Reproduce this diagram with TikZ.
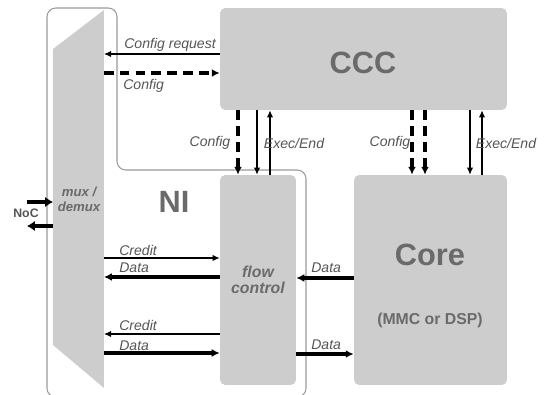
\documentclass[tikz,border=0pt]{standalone}
\usepackage{fontspec}
\setmainfont{Liberation Sans}
\usepackage{tikz}
\usetikzlibrary{arrows.meta,calc}

\definecolor{blockgray}{HTML}{CDCDCD}
\definecolor{textgray}{HTML}{6A6A6A}
\definecolor{labelgray}{HTML}{555555}
\definecolor{framegray}{HTML}{9A9A9A}

\tikzset{
	block/.style={fill=blockgray,rounded corners=3pt,inner sep=0pt},
	bigtext/.style={text=textgray,font=\fontsize{17.5}{20}\selectfont\bfseries},
	lbl/.style={text=labelgray,font=\fontsize{8}{9}\selectfont\itshape,inner sep=0pt},
	thinarr/.style={line width=0.6pt,-{Latex[length=4pt,width=3.6pt]}},
	thickarr/.style={line width=1.8pt,-{Latex[length=4.5pt,width=4.5pt]}},
	nocarr/.style={line width=2.4pt,-{Latex[length=4.5pt,width=6pt]}},
	cfgarr/.style={line width=1.8pt,dash pattern=on 5.5pt off 3.5pt,-{Latex[length=4.5pt,width=4.5pt]}},
}

\begin{document}
\begin{tikzpicture}[x=0.02cm,y=-0.02cm]
			\useasboundingbox (0,0) rectangle (549,395);
			
			% NI frame
			\begin{scope}
				\clip (0,0) rectangle (549,395);
				\draw[framegray,line width=0.6pt,rounded corners=5pt] (47,397) -- (47,8) -- (117,8) -- (117,170) -- (306,170) -- (306,397) -- cycle;
			\end{scope}
			
			\fill[blockgray] (53,49) -- (104,10) -- (104,388) -- (53,345) -- cycle;
			\coordinate (mux) at (104,200);
			\coordinate (muxl) at (53,200);
			\node[text=textgray,font=\fontsize{7.5}{8.5}\selectfont\bfseries\itshape,align=center] (muxtxt) at (79,199) {mux /\\demux};
			
			\node[block,minimum width=5.74cm,minimum height=2.04cm] (ccc) at (363.5,59) {};
			\node[bigtext] (ccctxt) at (363,63) {CCC};
			\node[block,minimum width=1.52cm,minimum height=4.2cm] (fc) at (258,280) {};
			\node[text=textgray,font=\fontsize{9}{9.2}\selectfont\bfseries\itshape,align=center] (fctxt) at (258,280) {flow\\control};
			\node[block,minimum width=3.06cm,minimum height=4.2cm] (core) at (430.5,280) {};
			\node[bigtext] (coretxt) at (430,255) {Core};
			\node[text=textgray,font=\fontsize{9}{11}\selectfont\bfseries] (mmc) at (430,320) {(MMC or DSP)};
			\node[bigtext] (ni) at (174,202) {NI};
			\node[text=labelgray,font=\fontsize{7}{8}\selectfont\bfseries] (noc) at (26,213) {NoC};
			
			\draw[thinarr] (ccc.west |- 0,54) -- (mux |- 0,54);
			\draw[cfgarr] (mux |- 0,73) -- (ccc.west |- 0,73);
			\draw[cfgarr] (ccc.south -| 238,0) -- (fc.north -| 238,0);
			\draw[thinarr] (ccc.south -| 257,0) -- (fc.north -| 257,0);
			\draw[thinarr] (fc.north -| 270,0) -- (ccc.south -| 270,0);
			\draw[cfgarr] (ccc.south -| 412,0) -- (core.north -| 412,0);
			\draw[cfgarr] (ccc.south -| 425,0) -- (core.north -| 425,0);
			\draw[thinarr] (ccc.south -| 470,0) -- (core.north -| 470,0);
			\draw[thinarr] (core.north -| 482,0) -- (ccc.south -| 482,0);
			
			\draw[thinarr] (mux |- 0,258) -- (fc.west |- 0,258);
			\draw[thickarr] (fc.west |- 0,277) -- (mux |- 0,277);
			\draw[thinarr] (fc.west |- 0,334) -- (mux |- 0,334);
			\draw[thickarr] (mux |- 0,353) -- (fc.west |- 0,353);
			\draw[thickarr] (core.west |- 0,278) -- (fc.east |- 0,278);
			\draw[thickarr] (fc.east |- 0,354) -- (core.west |- 0,354);
			
			\coordinate (nocin) at (27,202);
			\coordinate (nocout) at (27,226);
			\draw[nocarr] (nocin) -- (muxl |- nocin);
			\draw[nocarr] (muxl |- nocout) -- (nocout);
			
			\node[lbl,anchor=west] (lcfgreq) at (124,45) {Config request};
			\node[lbl,anchor=west] (lcfg) at (123,86) {Config};
			\node[lbl] (lcfg1) at (210,143) {Config};
			\node[lbl] (lexec1) at (294,143) {Exec/End};
			\node[lbl] (lcfg2) at (390,143) {Config};
			\node[lbl] (lexec2) at (506,143) {Exec/End};
			\node[lbl,anchor=west] (lcr1) at (119,250) {Credit};
			\node[lbl,anchor=west] (ld1) at (119,268) {Data};
			\node[lbl,anchor=west] (lcr2) at (119,325) {Credit};
			\node[lbl,anchor=west] (ld2) at (119,346) {Data};
			\node[lbl,anchor=west] (ld3) at (311,268) {Data};
			\node[lbl,anchor=west] (ld4) at (311,345) {Data};
		\end{tikzpicture}
\end{document}
